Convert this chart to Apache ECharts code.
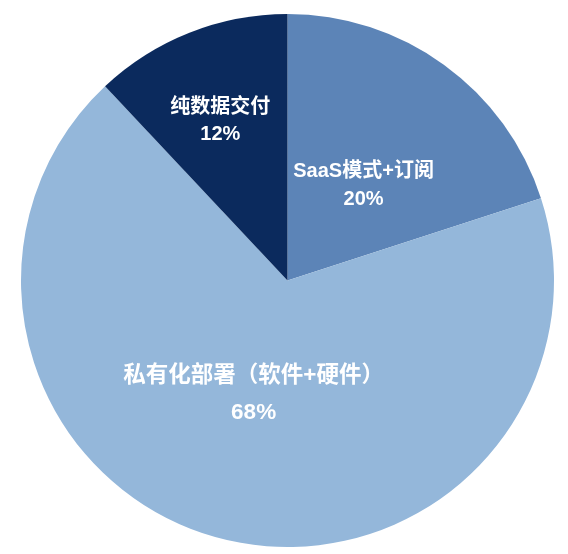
<!DOCTYPE html>
<html>
<head>
<meta charset="utf-8">
<script src="https://cdn.jsdelivr.net/npm/echarts@6/dist/echarts.min.js"></script>
<style>
html,body{margin:0;padding:0;background:#fff;}
#chart{width:568px;height:554px;}
</style>
</head>
<body>
<div id="chart"></div>
<script>
const categories = ['SaaS模式+订阅', '私有化部署（软件+硬件）', '纯数据交付'];
const values = [20, 68, 12];
const colors = ['#5c84b7', '#94b7da', '#0b2a5d'];
const labelOffsets = [[-4, 15], [0, -18], [-17, -33]];
const labelSizes = [20, 22.5, 20];
const labelLineHeights = [28, 37, 27];

const data = categories.map((name, i) => ({
  name: name,
  value: values[i],
  itemStyle: { color: colors[i] },
  label: {
    offset: labelOffsets[i],
    fontSize: labelSizes[i],
    lineHeight: labelLineHeights[i]
  }
}));

const chart = echarts.init(document.getElementById('chart'), null, { renderer: 'canvas' });
chart.setOption({
  animation: false,
  series: [{
    type: 'pie',
    center: [287.5, 280.5],
    radius: [0, 266.5],
    startAngle: 90,
    clockwise: true,
    data: data,
    itemStyle: { borderWidth: 0 },
    label: {
      show: true,
      position: 'inside',
      color: '#ffffff',
      fontWeight: 'bold',
      fontFamily: "'Liberation Sans', 'Noto Sans CJK SC', sans-serif",
      formatter: p => p.name + '\n' + p.value + '%'
    },
    labelLine: { show: false },
    emphasis: { disabled: true }
  }]
});
</script>
</body>
</html>
